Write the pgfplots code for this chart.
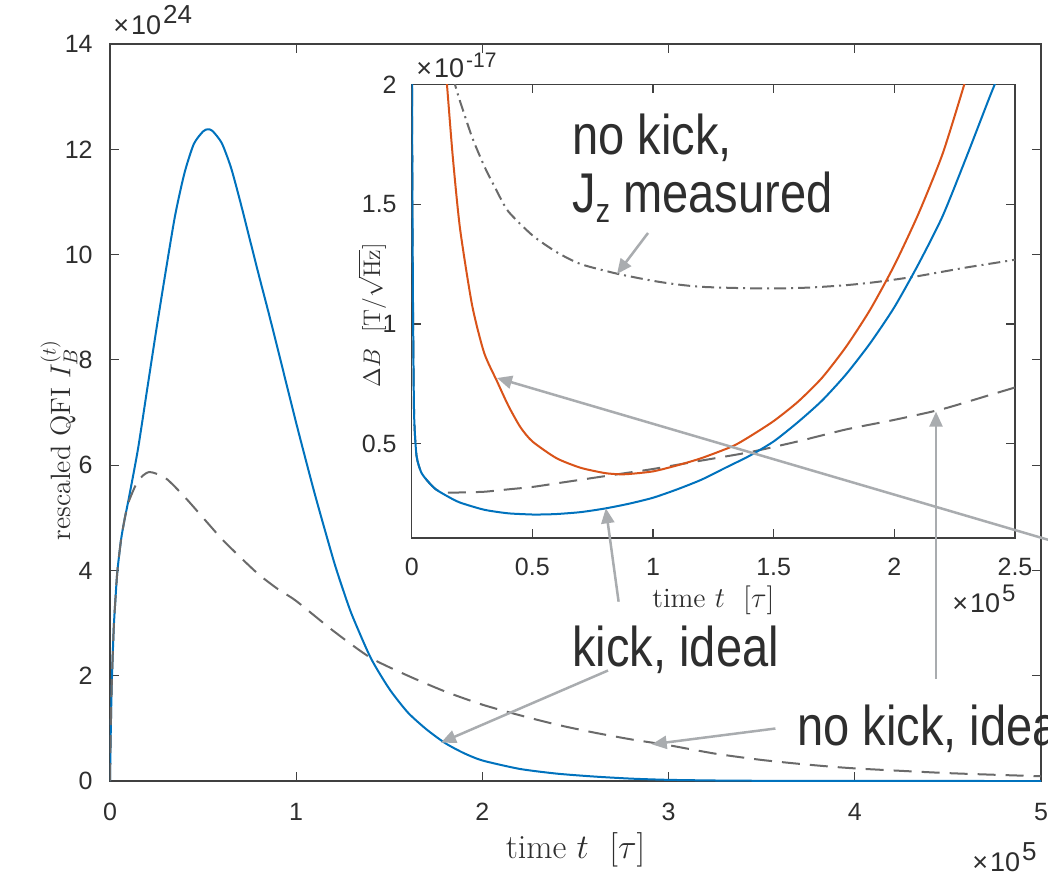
\documentclass[border=0pt]{standalone}
\usepackage{fontspec}
\usepackage{graphicx}
\usepackage{pgfplots}
\pgfplotsset{compat=1.18}
\usetikzlibrary{arrows.meta}
\newfontfamily\arial{Liberation Sans}
\definecolor{mblue}{HTML}{0072BD}
\definecolor{mred}{HTML}{D95319}
\definecolor{axgray}{HTML}{404040}
\definecolor{lgray}{HTML}{A9ACAF}
\definecolor{dgray}{HTML}{6A6A6A}
\definecolor{txt}{HTML}{2E2E2E}
\newcommand{\ann}[1]{\scalebox{0.84}[1]{\arial\fontsize{28}{30}\selectfont #1}}
\newcommand{\tenpow}[2]{{\arial\fontsize{13.5}{15}\selectfont\texttimes\kern1pt 10\kern1pt\raisebox{5.5pt}{\fontsize{#2}{14}\selectfont #1}}}

\pgfplotstableread{
x y
0 0
0.003 0.7
0.006 1.3
0.01 1.9
0.02 2.9
0.03 3.5
0.04 4.0
0.06 4.6
0.08 5.0
0.1 5.35
0.15 6.3
0.2 7.45
0.25 8.6
0.3 9.7
0.35 10.75
0.4 11.55
0.45 12.1
0.5 12.34
0.525 12.38
0.55 12.35
0.6 12.12
0.65 11.65
0.7 11.0
0.75 10.3
0.8 9.6
0.85 8.92
0.9 8.22
1.0 6.8
1.1 5.45
1.2 4.2
1.25 3.65
1.3 3.15
1.4 2.34
1.5 1.75
1.6 1.3
1.7 0.98
1.8 0.72
1.9 0.53
2.0 0.39
2.2 0.23
2.4 0.14
2.6 0.085
2.8 0.045
3.0 0.022
3.3 0.008
3.6 0.003
4.0 0.001
5.0 0
}\mainkick

\pgfplotstableread{
x y
0 0
0.003 0.7
0.006 1.3
0.01 1.9
0.02 2.9
0.03 3.5
0.04 4.0
0.06 4.6
0.08 5.0
0.1 5.3
0.15 5.7
0.21 5.87
0.3 5.75
0.4 5.4
0.5 5.0
0.6 4.6
0.7 4.25
0.8 3.92
0.9 3.65
1.0 3.42
1.2 2.85
1.4 2.34
1.6 2.0
1.8 1.7
2.0 1.45
2.2 1.25
2.4 1.07
2.6 0.92
2.8 0.79
3.0 0.68
3.25 0.52
3.5 0.4
3.75 0.31
4.0 0.24
4.5 0.15
5.0 0.09
}\mainnokick

\pgfplotstableread{
x y
0.001 2.1
0.003 1.5
0.006 1.0
0.01 0.62
0.02 0.45
0.04 0.38
0.07 0.34
0.1 0.31
0.15 0.28
0.2 0.255
0.3 0.225
0.4 0.21
0.5 0.205
0.53 0.205
0.6 0.207
0.7 0.215
0.8 0.23
0.9 0.25
1.0 0.275
1.1 0.31
1.2 0.35
1.3 0.40
1.4 0.45
1.5 0.51
1.6 0.59
1.7 0.68
1.8 0.79
1.9 0.92
2.0 1.07
2.1 1.25
2.2 1.45
2.3 1.70
2.4 1.96
2.45 2.08
}\inkick

\pgfplotstableread{
x y
0.14 2.05
0.146 2.0
0.17 1.7
0.2 1.4
0.25 1.08
0.3 0.88
0.354 0.76
0.4 0.66
0.45 0.57
0.5 0.51
0.6 0.44
0.7 0.40
0.8 0.378
0.86 0.373
0.9 0.374
1.0 0.385
1.1 0.41
1.2 0.44
1.33 0.49
1.4 0.53
1.5 0.595
1.6 0.675
1.7 0.775
1.8 0.905
1.9 1.06
2.0 1.245
2.1 1.46
2.2 1.71
2.29 2.0
2.3 2.04
}\inkickmeas

\pgfplotstableread{
x y
0.001 2.1
0.003 1.5
0.006 1.0
0.01 0.62
0.02 0.45
0.04 0.38
0.07 0.34
0.1 0.31
0.12 0.30
0.15 0.296
0.2 0.297
0.3 0.30
0.4 0.31
0.5 0.32
0.6 0.335
0.7 0.35
0.8 0.365
0.9 0.38
1.0 0.395
1.2 0.43
1.4 0.465
1.6 0.51
1.8 0.56
2.0 0.60
2.2 0.645
2.4 0.705
2.5 0.735
}\innokick

\pgfplotstableread{
x y
0.17 2.03
0.179 2.0
0.2 1.93
0.25 1.78
0.3 1.66
0.35 1.56
0.4 1.47
0.5 1.37
0.6 1.30
0.7 1.25
0.85 1.21
1.0 1.18
1.1 1.165
1.2 1.155
1.35 1.15
1.5 1.148
1.65 1.152
1.8 1.162
1.9 1.172
2.0 1.185
2.1 1.20
2.2 1.218
2.3 1.236
2.4 1.252
2.5 1.268
}\innokickmeas

\begin{document}
\begin{tikzpicture}
\pgfplotsset{
  common/.style={
    scale only axis, scaled ticks=false,
    axis line style={axgray, line width=0.65pt},
    tick style={axgray, line width=0.6pt},
    major tick length=4.5pt,
    tick align=inside,
    tick label style={font=\arial\fontsize{12.5}{14}\selectfont, text=txt, inner sep=0pt},
    /pgf/number format/assume math mode=true,
    label style={text=txt},
    every axis plot/.append style={smooth, tension=0.4},
  }
}
\begin{axis}[common, name=main, at={(0,0)}, anchor=south west,
  width=465.5pt, height=368.5pt,
  xmin=0, xmax=5, ymin=0, ymax=14,
  xtick={0,1,2,3,4,5}, ytick={0,2,4,6,8,10,12,14},
  xticklabel style={anchor=center, yshift=-15.5pt},
  yticklabel style={anchor=east, xshift=-8.5pt},
  xlabel={time $t$\ \ $[\tau]$},
  ylabel={rescaled QFI $I_B^{(t)}$},
  xlabel style={at={(axis description cs:0.5,0)}, anchor=center, yshift=-34.5pt, font=\fontsize{17}{19}\selectfont},
  ylabel style={at={([xshift=-25.5pt,yshift=-13.75pt]axis description cs:0,0.5)}, anchor=center, font=\fontsize{14}{16}\selectfont},
]
\addplot[mblue, line width=1pt] table[x=x,y=y] {\mainkick};
\addplot[dgray, line width=1pt, dash pattern=on 9pt off 5pt] table[x=x,y=y] {\mainnokick};
\end{axis}

\begin{axis}[common, name=inset, at={(150.85pt,121.5pt)}, anchor=south west,
  width=301.65pt, height=226.85pt,
  axis background/.style={fill=white},
  xmin=0, xmax=2.5, ymin=0.107, ymax=2,
  xtick={0,0.5,1,1.5,2,2.5}, ytick={0.5,1,1.5,2},
  xticklabel style={anchor=center, yshift=-14.35pt},
  yticklabel style={anchor=east, xshift=-7.35pt},
  xlabel={time $t$\ \ $[\tau]$},
  ylabel={$\Delta B$\ \ $[\mathrm{T}/\sqrt{\mathrm{Hz}}]$},
  xlabel style={at={(axis description cs:0.5,0)}, anchor=center, yshift=-31pt, font=\fontsize{14}{15}\selectfont},
  ylabel style={at={([xshift=-19.85pt,yshift=-2pt]axis description cs:0,0.5)}, anchor=center, font=\fontsize{12}{13}\selectfont},
]
\addplot[dgray, line width=1pt, dash pattern=on 9pt off 5pt] table[x=x,y=y] {\innokick};
\addplot[dgray, line width=1pt, dash pattern=on 6pt off 2.5pt on 1pt off 2.5pt] table[x=x,y=y] {\innokickmeas};
\addplot[mred, line width=1pt] table[x=x,y=y] {\inkickmeas};
\addplot[mblue, line width=1pt] table[x=x,y=y] {\inkick};
\end{axis}

% scale factors
\node[anchor=base west, inner sep=0pt, text=txt] at (1.5pt,373pt) {\tenpow{24}{13}};
\node[anchor=base west, inner sep=0pt, text=txt] at (153pt,351.5pt) {\tenpow{-17}{10.5}};
\node[anchor=base west, inner sep=0pt, text=txt] at (421pt,84.5pt) {\tenpow{5}{12}};
\node[anchor=base west, inner sep=0pt, text=txt] at (431pt,-45pt) {\tenpow{5}{13}};

% annotations
\begin{scope}[lgray, line width=1.25pt, -{Triangle[length=7.5pt,width=6.5pt]}]
\draw (269pt,274pt) -- (253.5pt,253.5pt);
\draw (495pt,113pt) -- (193.5pt,201.5pt);
\draw (254.3pt,89.65pt) -- (247.9pt,136.35pt);
\draw (249pt,55.25pt) -- (165.5pt,19.2pt);
\draw (413pt,51pt) -- (413pt,184.65pt);
\draw (332.7pt,26.25pt) -- (270.85pt,18.35pt);
\end{scope}
\node[anchor=base west, inner sep=0pt, text=txt] at (231pt,313pt) {\ann{no kick,}};
\node[anchor=base west, inner sep=0pt, text=txt] at (231pt,284.5pt) {\ann{J\raisebox{-5pt}{\fontsize{17}{18}\selectfont z} measured}};
\node[anchor=base west, inner sep=0pt, text=txt] at (231pt,57.5pt) {\ann{kick, ideal}};
\node[anchor=base west, inner sep=0pt, text=txt] at (343.5pt,18pt) {\ann{no kick, ideal}};

\pgfresetboundingbox
\useasboundingbox (-55pt,-47pt) rectangle (469pt,390.5pt);
\end{tikzpicture}
\end{document}
